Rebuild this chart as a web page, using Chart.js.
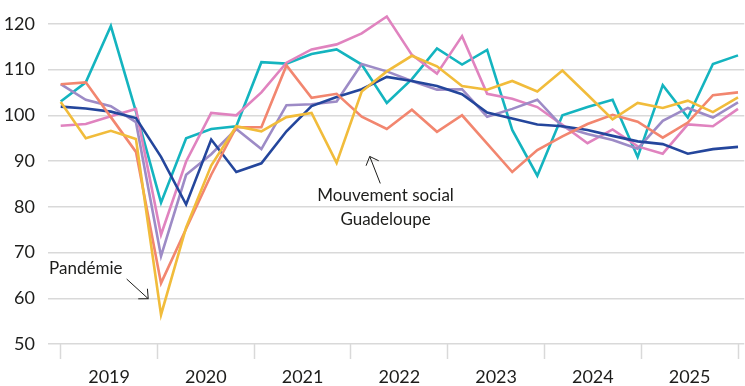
<!DOCTYPE html>
<html lang="fr">
<head>
<meta charset="utf-8">
<script src="https://cdn.jsdelivr.net/npm/chart.js@4.4.1/dist/chart.umd.min.js"></script>
<style>
    html, body { margin: 0; padding: 0; background: #fff; }
    #wrap { width: 745px; height: 386px; }
</style>
</head>
<body>
<div id="wrap"><canvas id="climat" width="745" height="386"></canvas></div>
<script>
    // trimestres 2019T1 -> 2025T4
    const quarters = [
        '2019T1', '2019T2', '2019T3', '2019T4', '2020T1', '2020T2', '2020T3', '2020T4',
        '2021T1', '2021T2', '2021T3', '2021T4', '2022T1', '2022T2', '2022T3', '2022T4',
        '2023T1', '2023T2', '2023T3', '2023T4', '2024T1', '2024T2', '2024T3', '2024T4',
        '2025T1', '2025T2', '2025T3', '2025T4'
    ];
    const years = ['2019', '2020', '2021', '2022', '2023', '2024', '2025'];
    const yTicks = [50, 60, 70, 80, 90, 100, 110, 120];

    const serieBleue = [101.9, 101.5, 100.8, 99.4, 90.9, 80.5, 94.7, 87.6, 89.5, 96.5, 102.0, 104.0, 105.7, 108.4,
        107.5, 106.4, 104.6, 100.6, 99.3, 98.0, 97.6, 96.8, 95.5, 94.3, 93.7, 91.6, 92.6, 93.1];
    const serieTurquoise = [103.0, 107.2, 119.5, 100.8, 80.9, 95.0, 97.0, 97.6, 111.6, 111.3, 113.4, 114.4, 111.1, 102.7,
        107.9, 114.6, 111.1, 114.3, 96.8, 86.8, 100.0, 101.8, 103.4, 90.9, 106.6, 99.5, 111.2, 113.1];
    const serieRose = [97.7, 98.1, 99.8, 101.4, 73.9, 89.9, 100.5, 100.0, 105.0, 111.5, 114.4, 115.5, 117.9, 121.6,
        113.2, 109.1, 117.3, 104.7, 103.6, 101.8, 97.9, 93.9, 96.9, 93.2, 91.6, 98.0, 97.6, 101.4];
    const serieSaumon = [106.8, 107.2, 99.6, 92.0, 63.3, 75.2, 87.0, 97.4, 97.4, 110.9, 103.8, 104.7, 99.7, 97.0,
        101.2, 96.4, 100.0, 93.8, 87.6, 92.4, 95.4, 98.1, 100.1, 98.6, 95.1, 98.4, 104.4, 105.0];
    const serieMauve = [106.8, 103.4, 102.0, 98.5, 69.2, 87.0, 91.5, 97.0, 92.6, 102.2, 102.4, 103.0, 111.2, 109.6,
        107.5, 105.6, 105.7, 99.7, 101.4, 103.4, 97.5, 95.9, 94.6, 92.7, 98.8, 101.6, 99.5, 102.8];
    const serieJaune = [102.9, 95.0, 96.6, 94.8, 56.4, 75.5, 89.0, 97.6, 96.5, 99.6, 100.5, 89.6, 105.2, 109.6,
        113.0, 110.7, 106.4, 105.6, 107.5, 105.2, 109.8, 104.5, 99.1, 102.7, 101.6, 103.2, 100.7, 103.9];

    const FONT = 'Lato, "DejaVu Sans", sans-serif';
    const TEXT = '#1d1d1b';
    const GRID = '#d9d9d9';

    function toPoints(values) {
        return values.map((v, i) => ({ x: i, y: v }));
    }

    function line(values, color) {
        return {
            data: toPoints(values),
            borderColor: color,
            backgroundColor: color,
            borderWidth: 2.6,
            pointRadius: 0,
            tension: 0,
            clip: false
        };
    }

    // year blocks spread evenly over the whole quarter range
    const last = quarters.length - 1;
    const yearStep = last / years.length;

    function drawArrow(ctx, x1, y1, x2, y2) {
        const ang = Math.atan2(y2 - y1, x2 - x1);
        const head = 10;
        ctx.beginPath();
        ctx.moveTo(x1, y1);
        ctx.lineTo(x2, y2);
        ctx.moveTo(x2 - head * Math.cos(ang - 0.75), y2 - head * Math.sin(ang - 0.75));
        ctx.lineTo(x2, y2);
        ctx.lineTo(x2 - head * Math.cos(ang + 0.75), y2 - head * Math.sin(ang + 0.75));
        ctx.stroke();
    }

    const notes = {
        id: 'notes',
        afterDatasetsDraw(chart) {
            const { ctx, scales: { x, y } } = chart;
            const px = v => x.getPixelForValue(v);
            const py = v => y.getPixelForValue(v);
            ctx.save();
            ctx.strokeStyle = '#1d1d1b';
            ctx.lineWidth = 1;
            ctx.fillStyle = TEXT;
            ctx.font = '17px ' + FONT;
            ctx.textAlign = 'center';
            ctx.textBaseline = 'middle';

            ctx.fillText('Pandémie', px(1.0), py(66.4));
            drawArrow(ctx, px(2.63), py(64.2), px(3.49), py(59.9));

            ctx.fillText('Mouvement social', px(12.95), py(82.4));
            ctx.fillText('Guadeloupe', px(12.95), py(77.3));
            drawArrow(ctx, px(12.74), py(85.1), px(12.32), py(91.0));
            ctx.restore();
        }
    };

    new Chart(document.getElementById('climat'), {
        type: 'line',
        data: {
            datasets: [
                line(serieJaune, '#f1bc3b'),
                line(serieSaumon, '#f2866f'),
                line(serieBleue, '#24469c'),
                line(serieMauve, '#9d8bc6'),
                line(serieRose, '#e083bf'),
                line(serieTurquoise, '#14b4bf')
            ]
        },
        options: {
            responsive: false,
            animation: false,
            layout: { padding: { top: 18, right: 0, left: 0, bottom: 0 } },
            plugins: { legend: { display: false }, tooltip: { enabled: false } },
            scales: {
                x: {
                    type: 'linear',
                    min: -0.506,
                    max: last + 0.25,
                    afterBuildTicks: scale => {
                        const ticks = [];
                        for (let k = 0; k <= years.length * 2; k++) ticks.push({ value: k * yearStep / 2 });
                        scale.ticks = ticks;
                    },
                    afterFit: scale => { scale.height = 42; },
                    border: { display: false },
                    grid: {
                        drawOnChartArea: false,
                        drawTicks: true,
                        tickLength: 15,
                        tickWidth: 1.5,
                        tickColor: c => (c.index % 2 === 0 ? GRID : 'rgba(0,0,0,0)')
                    },
                    ticks: {
                        autoSkip: false,
                        maxRotation: 0,
                        padding: 7,
                        color: TEXT,
                        font: { family: FONT, size: 18 },
                        callback: (value, index) => (index % 2 ? years[(index - 1) / 2] : '')
                    }
                },
                y: {
                    min: 50,
                    max: 120,
                    afterBuildTicks: scale => { scale.ticks = yTicks.map(v => ({ value: v })); },
                    afterFit: scale => { scale.width = 48; },
                    border: { display: false },
                    grid: { color: GRID, lineWidth: 1.5, drawTicks: false },
                    ticks: {
                        padding: 13,
                        color: TEXT,
                        font: { family: FONT, size: 18 }
                    }
                }
            }
        },
        plugins: [notes]
    });
</script>
</body>
</html>
